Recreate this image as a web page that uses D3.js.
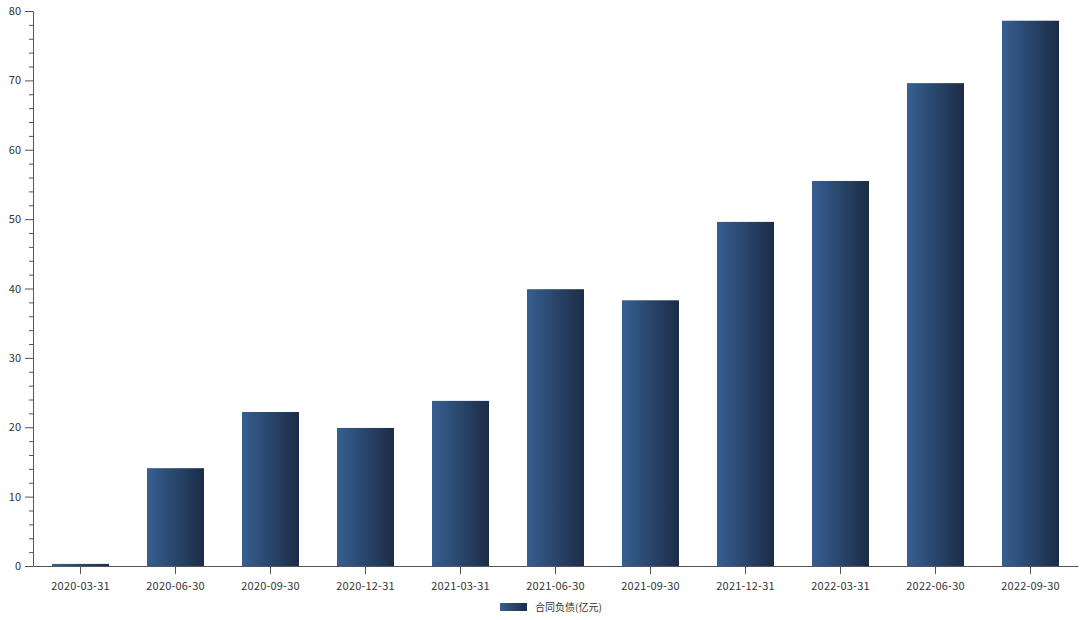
<!DOCTYPE html>
<html><head><meta charset="utf-8">
<script src="https://cdn.jsdelivr.net/npm/d3@7"></script>
<style>
html,body{margin:0;padding:0;background:#fff;}
text{font-family:"Noto Sans CJK SC","Noto Sans",sans-serif;}
</style></head>
<body>
<svg id="chart" width="1080" height="620"></svg>
<script>
const categories = ["2020-03-31","2020-06-30","2020-09-30","2020-12-31","2021-03-31","2021-06-30","2021-09-30","2021-12-31","2022-03-31","2022-06-30","2022-09-30"];
const values = [0.3, 14.1, 22.2, 19.9, 23.8, 39.9, 38.3, 49.6, 55.5, 69.6, 78.6];
const seriesName = "合同负债(亿元)";
const yTicks = [0,10,20,30,40,50,60,70,80];

const svg = d3.select("#chart");
const margin = {left:33, right:2, top:11, bottom:54};
const W = 1080, H = 620;
const x = d3.scaleBand().domain(categories).range([margin.left, W - margin.right]).paddingInner(0.4).paddingOuter(0.2);
const y = d3.scaleLinear().domain([0,80]).range([H - margin.bottom, margin.top]);

const defs = svg.append("defs");
const grad = defs.append("linearGradient").attr("id","barGrad").attr("x1","0%").attr("x2","100%").attr("y1","0%").attr("y2","0%");
grad.append("stop").attr("offset","0%").attr("stop-color","#365f91");
grad.append("stop").attr("offset","100%").attr("stop-color","#1c2c46");

svg.append("g").selectAll("rect").data(values).join("rect")
  .attr("x",(d,i)=>x(categories[i]))
  .attr("width",x.bandwidth())
  .attr("y",d=>y(d))
  .attr("height",d=>y(0)-y(d))
  .attr("fill","url(#barGrad)");

// y axis minor ticks
const yMinor = d3.range(0,81,2).filter(v=>v%10!==0);
const ga = svg.append("g").attr("transform",`translate(${margin.left},0)`);
ga.selectAll("line.minor").data(yMinor).join("line").attr("class","minor")
  .attr("x1",-4).attr("x2",0).attr("y1",d=>y(d)+0.5).attr("y2",d=>y(d)+0.5)
  .attr("stroke","#555");
const yAxis = d3.axisLeft(y).tickValues(yTicks).tickSize(8).tickPadding(4).tickSizeOuter(0);
ga.call(yAxis);
ga.select(".domain").attr("stroke","#555");
ga.selectAll(".tick line").attr("stroke","#555");
ga.selectAll(".tick text").attr("fill","#333").style("font-size","11px").style("font-family","'Noto Sans CJK SC','Noto Sans',sans-serif");

const xAxis = d3.axisBottom(x).tickSize(8).tickPadding(8).tickSizeOuter(0);
const gx = svg.append("g").attr("transform",`translate(0,${y(0)})`).call(xAxis);
gx.select(".domain").attr("stroke","#555");
gx.selectAll(".tick line").attr("stroke","#555");
gx.selectAll(".tick text").attr("fill","#333").style("font-size","11px").style("letter-spacing","0.2px").style("font-family","'Noto Sans CJK SC','Noto Sans',sans-serif");

// legend
const lg = svg.append("g").attr("transform","translate(500,603)");
lg.append("rect").attr("width",27).attr("height",8).attr("fill","url(#barGrad)");
lg.append("text").attr("x",35).attr("y",8).attr("fill","#333").style("font-size","10px").text(seriesName);
</script>
</body></html>
